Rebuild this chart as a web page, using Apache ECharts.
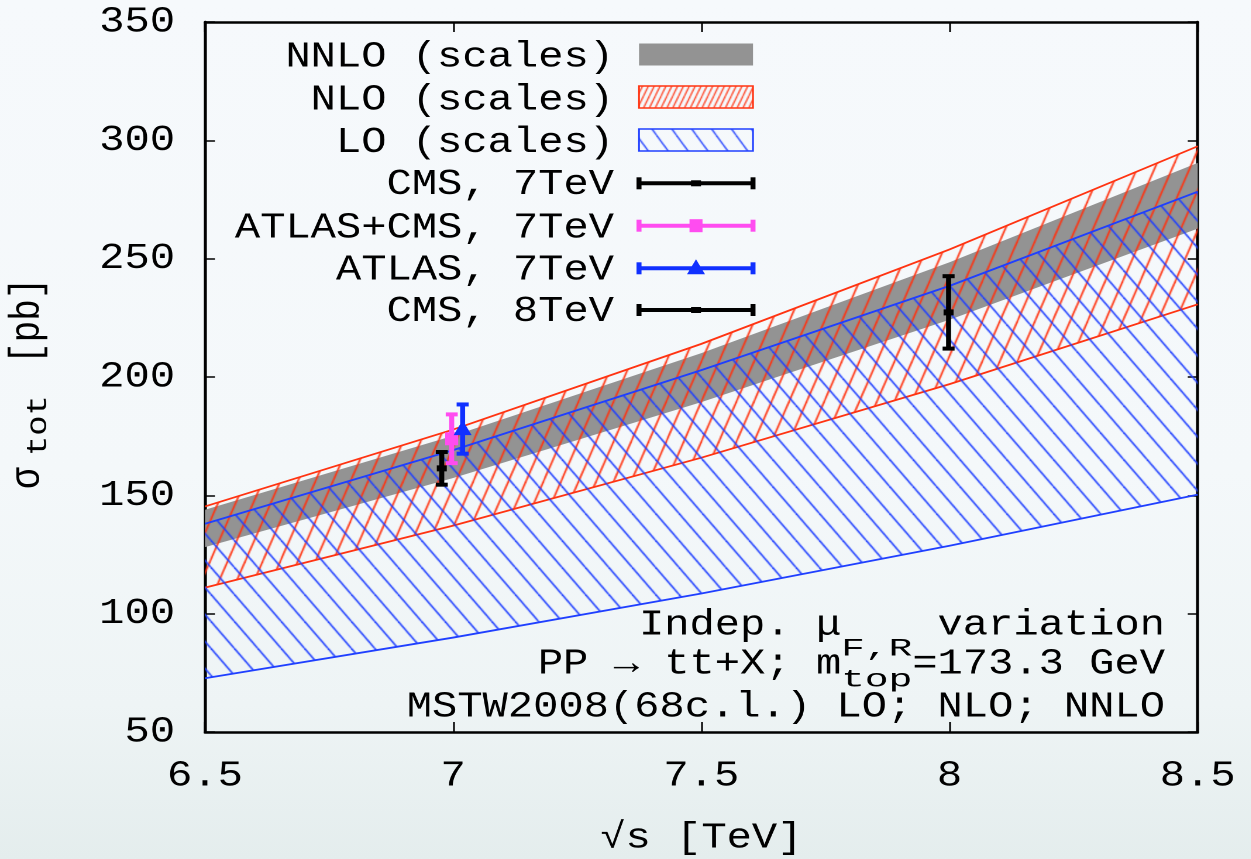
<!DOCTYPE html>
<html>
<head>
<meta charset="utf-8">
<title>Top-pair cross section vs. collider energy</title>
<script src="https://cdn.jsdelivr.net/npm/echarts@6.0.0/dist/echarts.min.js"></script>
<style>
  html, body { margin: 0; padding: 0; width: 1251px; height: 859px; overflow: hidden; }
  body { background: linear-gradient(180deg, #f6f9fc 0%, #f4f8fa 55%, #eef4f5 82%, #e4eded 100%); }
  #chart { position: absolute; left: 0; top: 0; height: 859px; transform-origin: 0 0; }
</style>
</head>
<body>
<div id="chart"></div>
<script>
// Collider energy grid (TeV) on which the scale-variation bands are given
const energies = [6.5, 7.0, 7.5, 8.0, 8.5];

// Scale-variation envelopes of sigma_tot (pb)
const nnloUpper = [143.9, 175.2, 210.1, 248.5, 290.5];
const nnloLower = [128.1, 157.3, 189.4, 224.2, 262.7];
const nloUpper  = [145.3, 177.8, 214.0, 253.9, 297.5];
const nloLower  = [111.0, 137.2, 165.9, 197.0, 230.7];
const loUpper   = [138.0, 169.1, 202.9, 238.5, 278.3];
const loLower   = [72.7, 89.9, 108.5, 128.7, 150.3];

// Measurements: sqrt(s) [TeV], sigma [pb], total uncertainty [pb]
const cms7      = [[6.977, 161.4, 6.9]];
const atlasCms7 = [[6.997, 173.9, 10.3]];
const atlas7    = [[7.019, 178.0, 10.4]];
const cms8      = [[7.998, 227.3, 15.3]];

// Axis ticks
const xTicks = [6.5, 7, 7.5, 8, 8.5];
const yTicks = [50, 100, 150, 200, 250, 300, 350];

// Key entries
const legendLabels = ['NNLO (scales)', 'NLO (scales)', 'LO (scales)',
  'CMS, 7TeV', 'ATLAS+CMS, 7TeV', 'ATLAS, 7TeV', 'CMS, 8TeV'];

// The drawing is laid out narrower and widened horizontally by STRETCH,
// which gives the broad typewriter lettering of the figure.
const STRETCH = 1.17;
const PAGE_W = 1251, PAGE_H = 859;
const W = PAGE_W / STRETCH;
const ux = v => v / STRETCH;

const FONT = '"Liberation Mono", "DejaVu Sans Mono", monospace';
const BASE = '36px ' + FONT;
const SUB = '25px ' + FONT;
const SUB_SX = 1.35;

const COL = {
  grey: '#939393', red: '#ff3311', blue: '#1f3fff',
  pink: '#ff4cf0', ptBlue: '#1030ff', black: '#000000'
};

// Repeating tile of parallel hatch lines
function hatch(color, p, h, rising, lw) {
  const cv = document.createElement('canvas');
  cv.width = p; cv.height = h;
  const g = cv.getContext('2d');
  g.strokeStyle = color; g.lineWidth = lw;
  for (let k = -1; k <= 1; k++) {
    g.beginPath();
    if (rising) { g.moveTo(k * p, h); g.lineTo(k * p + p, 0); }
    else { g.moveTo(k * p, 0); g.lineTo(k * p + p, h); }
    g.stroke();
  }
  return { image: cv, repeat: 'repeat' };
}
const nloHatch = hatch(COL.red, 15, 40, true, 1.5);
const loHatch = hatch(COL.blue, 20, 27, false, 1.5);
const nloKeyHatch = hatch(COL.red, 5, 12, true, 1.1);
const loKeyHatch = hatch(COL.blue, 17, 27, false, 1.2);

const measureCtx = document.createElement('canvas').getContext('2d');
function textWidth(t, font) { measureCtx.font = font; return measureCtx.measureText(t).width; }

// Band between two envelopes, optionally with edge lines
function band(name, upper, lower, fill, edge, z) {
  return {
    type: 'custom', name, z, silent: true, clip: true,
    data: [[energies[0], lower[0]]],
    renderItem(params, api) {
      const top = energies.map((e, i) => api.coord([e, upper[i]]));
      const bot = energies.map((e, i) => api.coord([e, lower[i]]));
      const kids = [{ type: 'polygon', shape: { points: top.concat(bot.slice().reverse()) },
        style: { fill: fill, stroke: 'none' } }];
      if (edge) {
        kids.push({ type: 'polyline', shape: { points: top }, style: { stroke: edge, lineWidth: 1.8, fill: 'none' } });
        kids.push({ type: 'polyline', shape: { points: bot }, style: { stroke: edge, lineWidth: 1.8, fill: 'none' } });
      }
      return { type: 'group', children: kids };
    }
  };
}

function marker(kind, c, color) {
  if (kind === 'dash') {
    return { type: 'rect', shape: { x: c[0] - ux(5), y: c[1] - 3, width: ux(10), height: 6 }, style: { fill: color } };
  }
  if (kind === 'square') {
    return { type: 'rect', shape: { x: c[0] - ux(6.5), y: c[1] - 6.5, width: ux(13), height: 13 }, style: { fill: color } };
  }
  return { type: 'polygon', shape: { points: [[c[0], c[1] - 9], [c[0] - ux(9), c[1] + 6], [c[0] + ux(9), c[1] + 6]] },
    style: { fill: color } };
}

// Measurement with symmetric error bar
function errorBar(name, rows, color, kind, z) {
  return {
    type: 'custom', name, z, silent: true, clip: true,
    data: rows.map(r => [r[0], r[1], r[1] - r[2], r[1] + r[2]]),
    encode: { x: 0, y: [1, 2, 3] },
    renderItem(params, api) {
      const x = api.value(0);
      const c = api.coord([x, api.value(1)]);
      const lo = api.coord([x, api.value(2)]);
      const hi = api.coord([x, api.value(3)]);
      const cap = ux(6);
      return { type: 'group', children: [
        { type: 'line', shape: { x1: lo[0], y1: lo[1], x2: hi[0], y2: hi[1] }, style: { stroke: color, lineWidth: ux(5) } },
        { type: 'line', shape: { x1: lo[0] - cap, y1: lo[1], x2: lo[0] + cap, y2: lo[1] }, style: { stroke: color, lineWidth: 4 } },
        { type: 'line', shape: { x1: hi[0] - cap, y1: hi[1], x2: hi[0] + cap, y2: hi[1] }, style: { stroke: color, lineWidth: 4 } },
        marker(kind, c, color)
      ] };
    }
  };
}

// ---- key (upper left inside the frame) ----
const KEY_TEXT_X = ux(614), SW_X0 = ux(639), SW_X1 = ux(753), SW_XC = ux(696);
const keyTextY = [57, 100, 142.5, 184.7, 228, 270, 311.6];
const keySwatchY = [54.5, 97, 140, 183.3, 225.7, 268.3, 310];

const keyItems = [];
legendLabels.forEach((lab, i) => {
  keyItems.push({ type: 'text', x: KEY_TEXT_X, y: keyTextY[i],
    style: { text: lab, font: BASE, fill: '#000', textAlign: 'right', textVerticalAlign: 'middle' } });
});
const swatchFill = [COL.grey, nloKeyHatch, loKeyHatch];
const swatchEdge = [null, COL.red, COL.blue];
for (let i = 0; i < 3; i++) {
  keyItems.push({ type: 'rect', shape: { x: SW_X0, y: keySwatchY[i] - 11, width: SW_X1 - SW_X0, height: 22 },
    style: { fill: swatchFill[i], stroke: swatchEdge[i] || 'none', lineWidth: 1.5 } });
}
const lineKeys = [[COL.black, 'dash'], [COL.pink, 'square'], [COL.ptBlue, 'triangle'], [COL.black, 'dash']];
lineKeys.forEach((k, j) => {
  const y = keySwatchY[3 + j];
  keyItems.push({ type: 'line', shape: { x1: SW_X0, y1: y, x2: SW_X1, y2: y }, style: { stroke: k[0], lineWidth: 4 } });
  keyItems.push({ type: 'line', shape: { x1: SW_X0, y1: y - 6, x2: SW_X0, y2: y + 6 }, style: { stroke: k[0], lineWidth: ux(5) } });
  keyItems.push({ type: 'line', shape: { x1: SW_X1, y1: y - 6, x2: SW_X1, y2: y + 6 }, style: { stroke: k[0], lineWidth: ux(5) } });
  keyItems.push(marker(k[1], [SW_XC, y], k[0]));
});

// ---- annotation with subscripts, right aligned ----
function textRun(parts, right, y, subY) {
  const widths = parts.map(p => p.sub ? textWidth(p.t, SUB) * SUB_SX : textWidth(p.t, BASE));
  let x = right - widths.reduce((a, b) => a + b, 0);
  return parts.map((p, i) => {
    const el = { type: 'text', x: x, y: p.sub ? subY : y, scaleX: p.sub ? SUB_SX : 1,
      style: { text: p.t, font: p.sub ? SUB : BASE, fill: '#000', textAlign: 'left', textVerticalAlign: 'middle' } };
    x += widths[i];
    return el;
  });
}
const NOTE_RIGHT = ux(1165);
const noteItems = [].concat(
  textRun([{ t: 'Indep. μ' }, { t: 'F,R', sub: true }, { t: ' variation' }], NOTE_RIGHT, 625, 649),
  textRun([{ t: 'PP → tt+X; m' }, { t: 'top', sub: true }, { t: '=173.3 GeV' }], NOTE_RIGHT, 664, 680),
  textRun([{ t: 'MSTW2008(68c.l.) LO; NLO; NNLO' }], NOTE_RIGHT, 707, 707)
);

// ---- vertical axis title ----
const yTitle = {
  type: 'group', x: ux(40), y: 0, rotation: Math.PI / 2,
  children: [
    { type: 'text', x: -489, y: -10.8, style: { text: 'σ', font: BASE, fill: '#000', textAlign: 'left', textVerticalAlign: 'middle' } },
    { type: 'text', x: -456, y: -1.5, scaleX: SUB_SX, style: { text: 'tot', font: SUB, fill: '#000', textAlign: 'left', textVerticalAlign: 'middle' } },
    { type: 'text', x: -364, y: -10.8, style: { text: '[pb]', font: BASE, fill: '#000', textAlign: 'left', textVerticalAlign: 'middle' } }
  ]
};

// ---- chart ----
const dom = document.getElementById('chart');
dom.style.width = W + 'px';
dom.style.transform = 'scaleX(' + STRETCH + ')';
const chart = echarts.init(dom, null, { renderer: 'canvas', devicePixelRatio: 2 });

const labelStyle = { color: '#000', fontFamily: FONT, fontSize: 36 };
function xAxisDef(pos) {
  return {
    type: 'value', position: pos,
    min: xTicks[0], max: xTicks[xTicks.length - 1], interval: xTicks[1] - xTicks[0],
    axisLine: { show: true, onZero: false, lineStyle: { color: '#000', width: 2.5 } },
    axisTick: { show: true, inside: true, length: 10, lineStyle: { color: '#000', width: 1.5 } },
    axisLabel: pos === 'bottom' ? Object.assign({ margin: 26 }, labelStyle) : { show: false },
    splitLine: { show: false },
    name: pos === 'bottom' ? '√s [TeV]' : '',
    nameLocation: 'middle', nameGap: 88,
    nameTextStyle: labelStyle
  };
}
function yAxisDef(pos) {
  return {
    type: 'value', position: pos,
    min: yTicks[0], max: yTicks[yTicks.length - 1], interval: yTicks[1] - yTicks[0],
    axisLine: { show: true, onZero: false, lineStyle: { color: '#000', width: ux(3) } },
    axisTick: { show: true, inside: true, length: ux(10), lineStyle: { color: '#000', width: 1.5 } },
    axisLabel: pos === 'left' ? Object.assign({ margin: ux(30) }, labelStyle) : { show: false },
    splitLine: { show: false }
  };
}

chart.setOption({
  backgroundColor: 'transparent',
  animation: false,
  grid: { left: ux(205), right: W - ux(1198), top: 22, bottom: PAGE_H - 732, containLabel: false, outerBoundsMode: 'none' },
  xAxis: [xAxisDef('bottom'), xAxisDef('top')],
  yAxis: [yAxisDef('left'), yAxisDef('right')],
  series: [
    band('NNLO (scales)', nnloUpper, nnloLower, COL.grey, null, 1),
    band('NLO (scales)', nloUpper, nloLower, nloHatch, COL.red, 2),
    band('LO (scales)', loUpper, loLower, loHatch, COL.blue, 3),
    errorBar('CMS, 7TeV', cms7, COL.black, 'dash', 5),
    errorBar('ATLAS+CMS, 7TeV', atlasCms7, COL.pink, 'square', 5),
    errorBar('ATLAS, 7TeV', atlas7, COL.ptBlue, 'triangle', 5),
    errorBar('CMS, 8TeV', cms8, COL.black, 'dash', 5)
  ],
  graphic: [].concat(keyItems, noteItems, [yTitle])
});
</script>
</body>
</html>
